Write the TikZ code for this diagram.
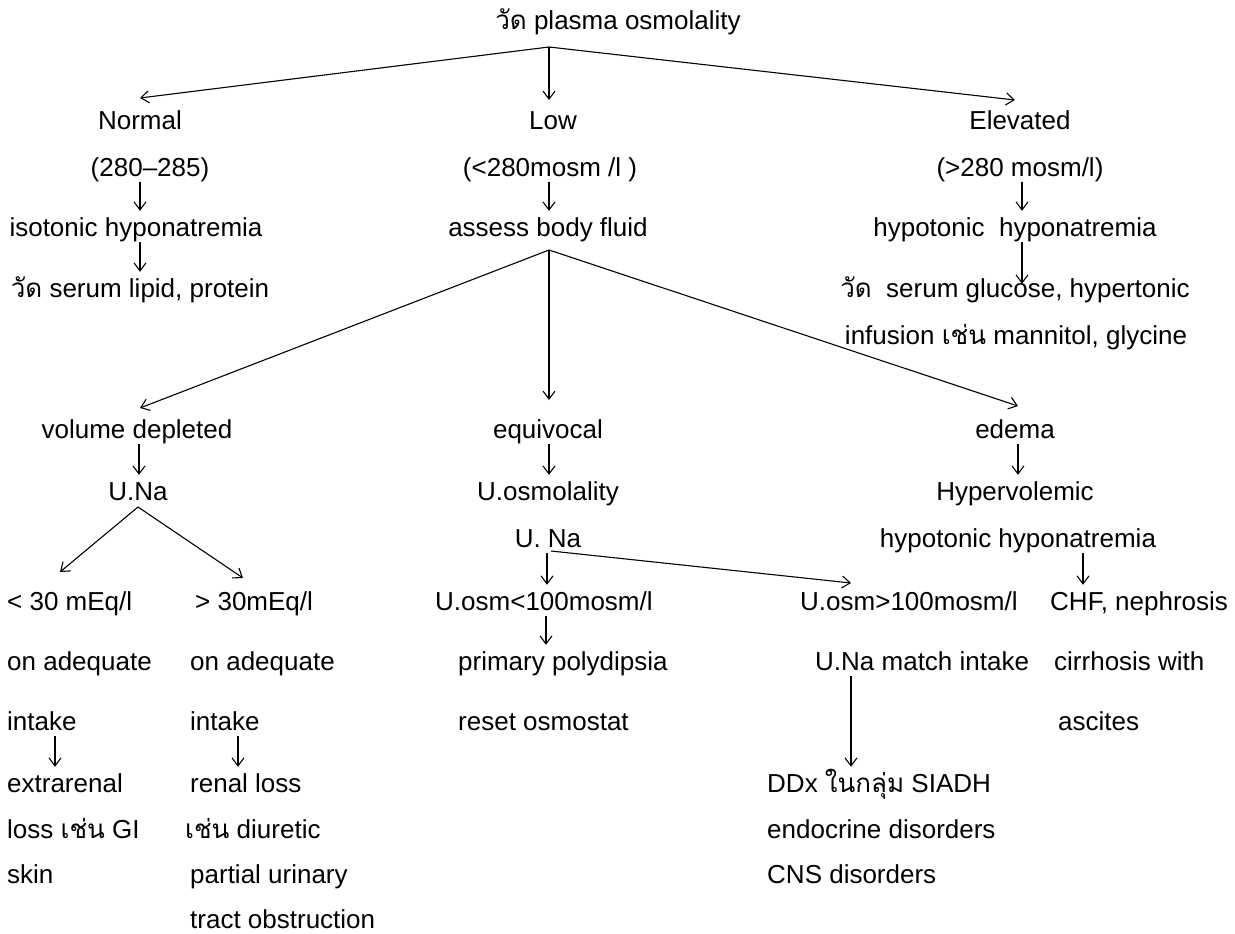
\documentclass[tikz,border=0pt]{standalone}
\usepackage{fontspec}
\setmainfont{Liberation Sans}
\newfontfamily\thai[Script=Thai]{Loma}
\usetikzlibrary{arrows.meta,calc}
\begin{document}
\begin{tikzpicture}[x=1pt,y=-1pt,
  lbl/.style={inner sep=0pt, anchor=base, font=\fontsize{26}{30}\selectfont, text height=18pt, text depth=6pt},
  lw/.style={lbl, anchor=base west},
  arr/.style={-{Straight Barb[length=8pt,width=12pt]}, line width=1.1pt, shorten >=7pt},
  darr/.style={-{Straight Barb[length=8pt,width=12pt]}, line width=1.1pt}]
\useasboundingbox[fill=white] (0,0) rectangle (1235,934);

% --- texts ---
\node[lbl] (title) at (618,30) {{\thai วัด} plasma osmolality};
\node[lbl] (normal) at (140,129) {Normal};
\node[lbl] (low) at (553,129) {Low};
\node[lbl] (elev) at (1020,129) {Elevated};
\node[lbl] (n2) at (150,176) {(280--285)};
\node[lbl] (l2) at (550,176) {(<280mosm /l )};
\node[lbl] (e2) at (1020,176) {(>280 mosm/l)};
\node[lbl] (n3) at (136,236) {isotonic hyponatremia};
\node[lbl] (l3) at (548,236) {assess body fluid};
\node[lbl] (e3) at (1015,236) {hypotonic\ \ hyponatremia};
\node[lbl] (n4) at (140,297) {{\thai วัด} serum lipid, protein};
\node[lbl] (e4) at (1015,297) {{\thai วัด}\ \ serum glucose, hypertonic};
\node[lbl] (e5) at (1016,344) {infusion {\thai เช่น} mannitol, glycine};
\node[lbl] (vd) at (137,438) {volume depleted};
\node[lbl] (eq) at (548,438) {equivocal};
\node[lbl] (ed) at (1015,438) {edema};
\node[lbl] (una) at (138,500) {U.Na};
\node[lbl] (uosm) at (548,500) {U.osmolality};
\node[lbl] (hyv) at (1015,500) {Hypervolemic};
\node[lbl] (una2) at (548,547) {U. Na};
\node[lbl] (hh) at (1018,547) {hypotonic hyponatremia};
\node[lw] (lt) at (7,610) {< 30 mEq/l};
\node[lw] (gt) at (195,610) {> 30mEq/l};
\node[lw] (ulow) at (435,610) {U.osm<100mosm/l};
\node[lw] (uhigh) at (800,610) {U.osm>100mosm/l};
\node[lw] (chf) at (1050,610) {CHF, nephrosis};
\node[lw] (oa1) at (7,670) {on adequate};
\node[lw] (oa2) at (190,670) {on adequate};
\node[lw] (pp) at (458,670) {primary polydipsia};
\node[lw] (unm) at (815,670) {U.Na match intake};
\node[lw] (cir) at (1054,670) {cirrhosis with};
\node[lw] (in1) at (7,730) {intake};
\node[lw] (in2) at (190,730) {intake};
\node[lw] (ro) at (458,730) {reset osmostat};
\node[lw] (asc) at (1058,730) {ascites};
\node[lw] (ex) at (7,792) {extrarenal};
\node[lw] (rl) at (190,792) {renal loss};
\node[lw] (ddx) at (767,792) {DDx {\thai ในกลุ่ม} SIADH};
\node[lw] (loss) at (7,838) {loss {\thai เช่น} GI};
\node[lw] (di) at (185,838) {{\thai เช่น} diuretic};
\node[lw] (endo) at (767,838) {endocrine disorders};
\node[lw] (skin) at (7,883) {skin};
\node[lw] (pu) at (190,883) {partial urinary};
\node[lw] (cns) at (767,883) {CNS disorders};
\node[lw] (tract) at (190,928) {tract obstruction};

% --- junctions and free arrow ends ---
\coordinate (jtop) at (549,47);
\coordinate (tnorm) at (140,98);
\coordinate (tlow) at (549,100);
\coordinate (telev) at (1015,100);
\coordinate (jabf) at (549,250);
\coordinate (tvd) at (140,408);
\coordinate (teq) at (549,400);
\coordinate (ted) at (1018,406);
\coordinate (juna) at (138,507);
\coordinate (tlt) at (60,572);
\coordinate (tgt) at (243,578);
\coordinate (juna2) at (551,551);
\coordinate (thigh) at (851,583);

% --- connectors ---
\draw[darr] (jtop) -- (tnorm);
\draw[darr] (jtop) -- (tlow);
\draw[darr] (jtop) -- (telev);
\draw[arr] ([xshift=-10pt]n2.south) -- ([xshift=-10pt]n2.south |- n3.north);
\draw[arr] ([xshift=4pt]n3.south) -- ([xshift=4pt]n3.south |- n4.north);
\draw[arr] ([xshift=-1pt]l2.south) -- ([xshift=-1pt]l2.south |- l3.north);
\draw[arr] ([xshift=2pt]e2.south) -- ([xshift=2pt]e2.south |- e3.north);
\draw[arr, shorten >=-5pt] ([xshift=7pt]e3.south) -- ([xshift=7pt]e3.south |- e4.north);
\draw[darr] (jabf) -- (tvd);
\draw[darr] (jabf) -- (teq);
\draw[darr] (jabf) -- (ted);
\draw[arr] ([xshift=2pt]vd.south) -- ([xshift=2pt]vd.south |- una.north);
\draw[arr] ([xshift=1pt]eq.south) -- ([xshift=1pt]eq.south |- uosm.north);
\draw[arr] ([xshift=3pt]ed.south) -- ([xshift=3pt]ed.south |- hyv.north);
\draw[darr] (juna) -- (tlt);
\draw[darr] (juna) -- (tgt);
\draw[arr] ([xshift=-1pt]una2.south) -- ([xshift=-1pt]una2.south |- ulow.north);
\draw[darr] (juna2) -- (thigh);
\draw[arr] ([xshift=65pt]hh.south) -- ([xshift=65pt]hh.south |- chf.north);
\draw[arr] ([xshift=111pt]ulow.south west) -- ([xshift=111pt]ulow.south west |- pp.north);
\draw[arr] ([xshift=48pt]in1.south west) -- ([xshift=48pt]in1.south west |- ex.north);
\draw[arr] ([xshift=48pt]in2.south west) -- ([xshift=48pt]in2.south west |- rl.north);
\draw[arr] ([xshift=36pt]unm.south west) -- ([xshift=36pt]unm.south west |- ddx.north);
\end{tikzpicture}
\end{document}
